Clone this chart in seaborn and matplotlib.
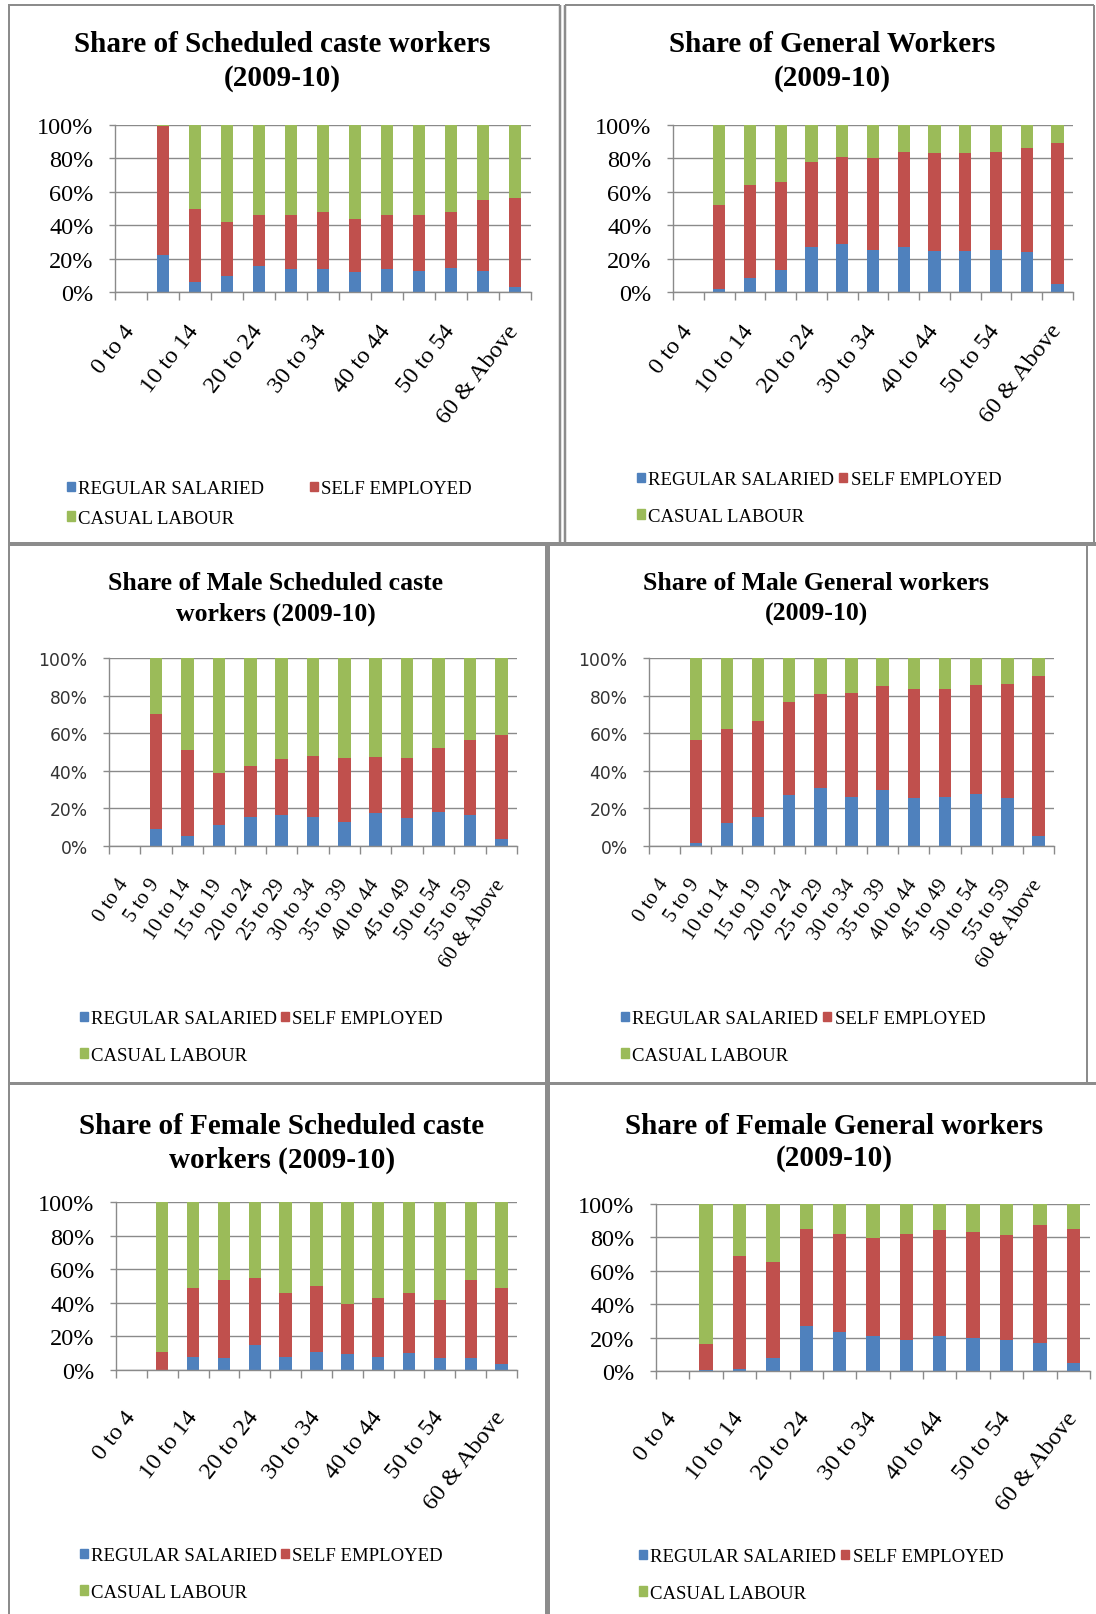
import numpy as np
import pandas as pd
import matplotlib
matplotlib.use("Agg")
import matplotlib.pyplot as plt
import seaborn as sns
from matplotlib.lines import Line2D
from matplotlib.patches import Patch

# ---------------- data ----------------
ages = ["0 to 4", "5 to 9", "10 to 14", "15 to 19", "20 to 24", "25 to 29", "30 to 34",
        "35 to 39", "40 to 44", "45 to 49", "50 to 54", "55 to 59", "60 & Above"]
series_names = ["REGULAR SALARIED", "SELF EMPLOYED", "CASUAL LABOUR"]

# Scheduled caste workers
sc_regular = [0, 22.5, 6, 10, 15.7, 14, 14, 12, 14, 13, 14.7, 13, 3.4]
sc_self = [0, 76.5, 44, 32, 30.3, 32, 34, 32, 32, 33, 33.3, 42, 52.6]
sc_casual = [0, 1, 50, 58, 54, 54, 52, 56, 54, 54, 52, 45, 44]

# General workers
gen_regular = [0, 1.6, 8.3, 13, 27, 29, 25, 27, 24.7, 24.7, 25, 24, 5]
gen_self = [0, 50.4, 55.7, 53, 51, 52, 55, 57, 58.8, 58.8, 59, 62.5, 84]
gen_casual = [0, 48, 36, 34, 22, 19, 20, 16, 16.5, 16.5, 16, 13.5, 11]

# Male scheduled caste workers
msc_regular = [0, 9, 5, 11, 15.3, 16.5, 15.3, 12.4, 17.2, 14.6, 18, 16.5, 3.7]
msc_self = [0, 61, 46, 27.5, 27.3, 29.5, 32.7, 34.3, 30.2, 32.1, 34, 39.8, 55.3]
msc_casual = [0, 30, 49, 61.5, 57.4, 54, 52, 53.3, 52.6, 53.3, 48, 43.7, 41]

# Male general workers
mgen_regular = [0, 1.4, 12, 15.3, 26.8, 31, 26, 29.7, 25.6, 26, 27.5, 25.6, 5]
mgen_self = [0, 54.9, 50.3, 51.1, 49.9, 49.8, 55.5, 55.2, 58.1, 57.7, 58.1, 60.7, 85.4]
mgen_casual = [0, 43.7, 37.7, 33.6, 23.3, 19.2, 18.5, 15.1, 16.3, 16.3, 14.4, 13.7, 9.6]

# Female scheduled caste workers
fsc_regular = [0, 0, 8, 7, 15, 8, 11, 9.5, 8, 10.3, 7, 7, 3.4]
fsc_self = [0, 11, 41, 46.7, 39.5, 38, 39, 29.5, 35, 35.7, 34.5, 46.7, 45.6]
fsc_casual = [0, 89, 51, 46.3, 45.5, 54, 50, 61, 57, 54, 58.5, 46.3, 51]

# Female general workers
fgen_regular = [0, 0.3, 1, 7.8, 27, 23.3, 21, 18.7, 21, 20, 18.7, 17, 5]
fgen_self = [0, 16, 68, 57.2, 58, 58.7, 58.7, 63.3, 63.3, 63, 62.6, 70.5, 80]
fgen_casual = [0, 83.7, 31, 35, 15, 18, 20.3, 18, 15.7, 17, 18.7, 12.5, 15]

titles = [
    ("Share of Scheduled caste workers", "(2009-10)"),
    ("Share of General Workers", "(2009-10)"),
    ("Share of Male Scheduled caste", "workers (2009-10)"),
    ("Share of Male General workers", "(2009-10)"),
    ("Share of Female Scheduled caste", "workers (2009-10)"),
    ("Share of Female General workers", "(2009-10)"),
]

# ---------------- style ----------------
BLUE, RED, GREEN = "#4F81BD", "#C0504D", "#9BBB59"
GRID = "#8A8A8A"
BORDER = "#8C8C8C"
W, H = 1096, 1615

plt.rcParams['font.family'] = ['Liberation Serif', 'DejaVu Serif']

fig = plt.figure(figsize=(W / 100, H / 100), dpi=100)
fig.patch.set_facecolor("white")


def rect(l, t, r, b):
    return [l / W, 1 - b / H, (r - l) / W, (b - t) / H]


def fy(y):
    return 1 - y / H


panels = [
    dict(data=(sc_regular, sc_self, sc_casual), box=(115, 125.7, 531, 293.3),
         tx=282, ty=(45, 79), tsize=21, yfont=("serif", 17.5, "black"), xsize=17.5, rot=52, step=2,
         xpad=25, leg=(67, 481), cs=2.45, ls=0.68),
    dict(data=(gen_regular, gen_self, gen_casual), box=(673, 126, 1073, 293),
         tx=832, ty=(45, 79), tsize=21, yfont=("serif", 17.5, "black"), xsize=17.5, rot=52, step=2,
         xpad=25, leg=(637, 472), cs=0.27, ls=1.05),
    dict(data=(msc_regular, msc_self, msc_casual), box=(109, 659, 517, 846.7),
         tx=276, ty=(583, 614), tsize=18.5, yfont=("sans", 12.3, "#333333"), xsize=15, rot=56, step=1,
         xpad=25, leg=(80, 1011), cs=0.2, ls=1.05),
    dict(data=(mgen_regular, mgen_self, mgen_casual), box=(649, 659, 1054, 846.7),
         tx=816, ty=(583, 614), tsize=18.5, yfont=("sans", 12.3, "#333333"), xsize=15, rot=56, step=1,
         xpad=25, leg=(621, 1011), cs=0.27, ls=1.05),
    dict(data=(fsc_regular, fsc_self, fsc_casual), box=(116, 1203, 517, 1371),
         tx=282, ty=(1127, 1160), tsize=21, yfont=("serif", 17.5, "black"), xsize=17.5, rot=52, step=2,
         xpad=31, leg=(80, 1548), cs=0.2, ls=1.05),
    dict(data=(fgen_regular, fgen_self, fgen_casual), box=(656, 1205, 1090, 1372),
         tx=834, ty=(1127, 1159), tsize=21, yfont=("serif", 17.5, "black"), xsize=17.5, rot=52, step=2,
         xpad=31, leg=(639, 1549), cs=0.27, ls=1.05),
]

for p, (t1, t2) in zip(panels, titles):
    reg, selfe, cas = p["data"]
    df = pd.DataFrame({"age": ages, "reg": reg, "self": selfe, "cas": cas})
    df["mid"] = df["reg"] + df["self"]
    df["top"] = df["mid"] + df["cas"]

    ax = fig.add_axes(rect(*p["box"]))
    for col, c in [("top", GREEN), ("mid", RED), ("reg", BLUE)]:
        sns.barplot(data=df, x="age", y=col, order=ages, color=c, saturation=1,
                    width=0.4, errorbar=None, linewidth=0, ax=ax)

    ax.set_facecolor("white")
    ax.set_xlim(-0.5, 12.5)
    ax.set_ylim(0, 100)
    ax.set_xlabel("")
    ax.set_ylabel("")
    ax.yaxis.grid(True, color=GRID, lw=1)
    ax.xaxis.grid(False)
    ax.set_axisbelow(True)
    for s in ["top", "right"]:
        ax.spines[s].set_visible(False)
    for s in ["left", "bottom"]:
        ax.spines[s].set_color(GRID)
        ax.spines[s].set_linewidth(1)

    fam, ysz, ycol = p["yfont"]
    yfam = ["DejaVu Sans"] if fam == "sans" else ["Liberation Serif", "DejaVu Serif"]
    ax.set_yticks(range(0, 101, 20))
    ax.set_yticklabels([f"{v}%" for v in range(0, 101, 20)], fontsize=ysz, color=ycol, family=yfam)
    ax.tick_params(axis="y", length=6 * 0.72, color=GRID, width=1, direction="out", left=True, pad=11)

    step = p["step"]
    ax.set_xticks(range(0, 13, step))
    ax.set_xticklabels(ages[::step], rotation=p["rot"], rotation_mode="anchor", ha="right", va="center",
                       fontsize=p["xsize"], family=["Liberation Serif", "DejaVu Serif"])
    ax.set_xticks(np.arange(-0.5, 13, 1), minor=True)
    ax.tick_params(axis="x", which="major", length=0, pad=p["xpad"], bottom=True)
    ax.tick_params(axis="x", which="minor", length=8 * 0.72, color=GRID, width=1, direction="out", bottom=True)

    fig.text(p["tx"] / W, fy(p["ty"][0]), t1, ha="center", va="center", fontsize=p["tsize"], fontweight="bold")
    fig.text(p["tx"] / W, fy(p["ty"][1]), t2, ha="center", va="center", fontsize=p["tsize"], fontweight="bold")

    h = [Patch(color=BLUE), Patch(color=RED), Patch(color=GREEN)]
    lx, ly = p["leg"]
    ax.legend([h[0], h[2], h[1]], [series_names[0], series_names[2], series_names[1]],
              ncol=2, loc="upper left", bbox_to_anchor=(lx / W, fy(ly)), bbox_transform=fig.transFigure,
              frameon=False, fontsize=13.5, handlelength=0.4, handleheight=0.4, handletextpad=0.2,
              columnspacing=p["cs"], labelspacing=p["ls"], borderpad=0, borderaxespad=0)


# ---------------- panel borders ----------------
def line(x0, y0, x1, y1, lw_px):
    fig.add_artist(Line2D([x0 / W, x1 / W], [fy(y0), fy(y1)], transform=fig.transFigure,
                          color=BORDER, lw=lw_px * 0.72, solid_capstyle="butt"))


line(8, 6, 559.5, 6, 2)
line(564.5, 6, 1094, 6, 2)
line(9, 6, 9, 1615, 2)
line(559.5, 6, 559.5, 545, 2.5)
line(564.5, 6, 564.5, 545, 2.5)
line(1094, 6, 1094, 545, 2)
line(8, 545, 1096, 545, 4)
line(546.5, 545, 546.5, 1615, 5)
line(1087, 545, 1087, 1084, 2)
line(8, 1084, 1096, 1084, 3)

fig.savefig("out.png", dpi=100, facecolor="white")
